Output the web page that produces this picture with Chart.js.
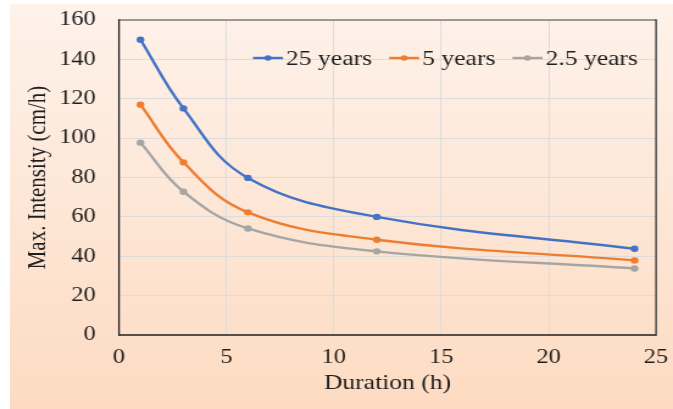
<!DOCTYPE html>
<html><head><meta charset="utf-8">
<script src="https://cdn.jsdelivr.net/npm/chart.js@4"></script>
<style>
html,body{margin:0;padding:0;background:#fff;width:673px;height:409px;overflow:hidden}
#bg{position:absolute;left:10px;top:4px;width:663px;height:405px;background:linear-gradient(to bottom,#fef2ea,#fddbc2)}
#wrap{position:absolute;left:0;top:0;width:552px;height:409px;transform:scaleX(1.2192);transform-origin:0 0}
</style></head>
<body><div id="bg"></div><div id="wrap"><canvas id="c"></canvas></div>
<script>
const durations = [1, 3, 6, 12, 24];
const years25 = [150, 115.1, 79.8, 60, 43.8];
const years5 = [117, 87.7, 62.3, 48.4, 37.9];
const years2_5 = [97.7, 72.8, 54.1, 42.5, 33.8];
const seriesLabels = ['25 years', '5 years', '2.5 years'];
const seriesColors = ['#4472C4', '#ED7D31', '#A5A5A5'];
const xTicks = [0, 5, 10, 15, 20, 25];
const yTicks = [0, 20, 40, 60, 80, 100, 120, 140, 160];

const S = 1.2192;
const FONT = '"Liberation Serif", "Times New Roman", serif';
const TXT = '#1e1e1e';

function pts(ys){ return durations.map((d,i)=>({x:d,y:ys[i]})); }
const allSeries = [years25, years5, years2_5];

const frame = {
  id:'frame',
  beforeDatasetsDraw(chart){
    const {ctx, chartArea:a} = chart;
    ctx.save();
    ctx.lineWidth = 1.4; ctx.strokeStyle = '#7f7f7f';
    ctx.beginPath(); ctx.moveTo(a.left, a.top); ctx.lineTo(a.right, a.top); ctx.stroke();
    ctx.strokeStyle = '#202020';
    ctx.lineWidth = 1.6;
    ctx.beginPath(); ctx.moveTo(a.left, a.bottom); ctx.lineTo(a.right, a.bottom); ctx.stroke();
    ctx.lineWidth = 1.3;
    ctx.beginPath(); ctx.moveTo(a.left, a.top-0.7); ctx.lineTo(a.left, a.bottom+0.8); ctx.stroke();
    ctx.strokeStyle = '#333333';
    ctx.beginPath(); ctx.moveTo(a.right, a.top-0.7); ctx.lineTo(a.right, a.bottom+0.8); ctx.stroke();
    ctx.restore();
  }
};

const legendPlug = {
  id:'legendPlug',
  afterDraw(chart){
    const {ctx} = chart;
    ctx.save();
    ctx.font = '21px ' + FONT;
    ctx.textBaseline = 'middle';
    ctx.textAlign = 'left';
    let x = 253 / S;
    const y = 58;
    const lineLen = 30 / S;
    chart.data.datasets.forEach(ds=>{
      ctx.strokeStyle = ds.borderColor; ctx.lineWidth = 2.4;
      ctx.beginPath(); ctx.moveTo(x, y); ctx.lineTo(x+lineLen, y); ctx.stroke();
      ctx.fillStyle = ds.borderColor;
      ctx.beginPath(); ctx.arc(x+lineLen/2, y, 2.8, 0, Math.PI*2); ctx.fill();
      x += lineLen + 2.5;
      ctx.fillStyle = TXT;
      ctx.fillText(ds.label, x, y+1);
      x += ctx.measureText(ds.label).width + 14;
    });
    ctx.restore();
  }
};

new Chart(document.getElementById('c'), {
  type:'line',
  data:{
    datasets: allSeries.map((ys,i)=>({
      label: seriesLabels[i],
      data: pts(ys),
      borderColor: seriesColors[i],
      backgroundColor: seriesColors[i],
      pointBackgroundColor: seriesColors[i],
      borderWidth: 2.4,
      pointRadius: 3.2,
      pointBorderWidth: 0,
      tension: 0.4,
      fill:false
    }))
  },
  options:{
    responsive:true, maintainAspectRatio:false, animation:false,
    layout:{padding:{top:20, right:13.9, left:0, bottom:0}},
    plugins:{legend:{display:false}, tooltip:{enabled:false}},
    scales:{
      x:{
        type:'linear', min:0, max:25,
        afterBuildTicks: s=>{ s.ticks = xTicks.map(v=>({value:v})); },
        afterFit: s=>{ s.height = 74; },
        ticks:{font:{family:FONT, size:20}, color:TXT, padding:0, maxRotation:0},
        grid:{color:'#dcdcdc', lineWidth:1, drawTicks:true, tickLength:11, tickColor:'rgba(0,0,0,0)'},
        border:{display:false},
        title:{display:true, text:'Duration (h)', color:TXT, font:{family:FONT, size:21}, padding:{top:0,bottom:13}}
      },
      y:{
        min:0, max:160,
        afterBuildTicks: s=>{ s.ticks = yTicks.map(v=>({value:v})); },
        afterFit: s=>{ s.width = 119/S; },
        ticks:{font:{family:FONT, size:20}, color:TXT, padding:0},
        grid:{color:'#dcdcdc', lineWidth:1, drawTicks:true, tickLength:19, tickColor:'rgba(0,0,0,0)'},
        border:{display:false},
        title:{display:true, text:'Max. Intensity (cm/h)', color:TXT, font:{family:FONT, size:21}, padding:{top:19,bottom:0}}
      }
    }
  },
  plugins:[frame, legendPlug]
});
</script>
</body></html>
